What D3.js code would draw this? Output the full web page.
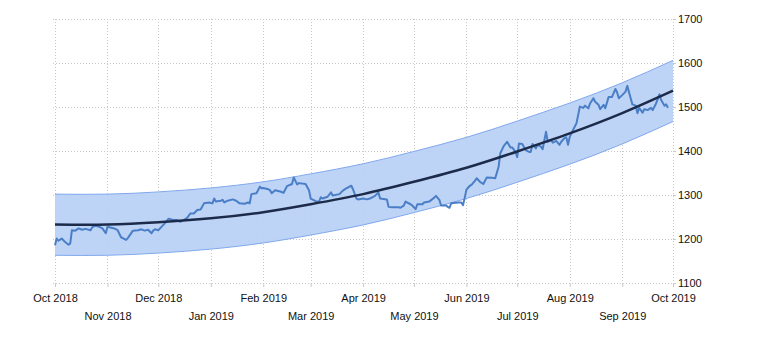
<!DOCTYPE html>
<html><head><meta charset="utf-8">
<script src="https://cdn.jsdelivr.net/npm/d3@7"></script>
<style>
html,body{margin:0;padding:0;background:#fff;}
svg{display:block;}
text{font-family:"Liberation Sans",Arial,sans-serif;}
</style></head>
<body><svg id="c" width="757" height="364"></svg>
<script>
// ---- data ----
const priceDates = [
"2018-10-01","2018-10-02","2018-10-03","2018-10-05","2018-10-07","2018-10-09","2018-10-10","2018-10-11","2018-10-13","2018-10-15","2018-10-17","2018-10-19","2018-10-22","2018-10-23","2018-10-25","2018-10-27","2018-10-29","2018-10-31",
"2018-11-01","2018-11-05","2018-11-07","2018-11-09","2018-11-12","2018-11-13","2018-11-16","2018-11-19","2018-11-21","2018-11-23","2018-11-25","2018-11-27","2018-11-28","2018-11-29",
"2018-12-01","2018-12-03","2018-12-05","2018-12-07","2018-12-10","2018-12-12","2018-12-14","2018-12-16","2018-12-18","2018-12-20","2018-12-22","2018-12-24","2018-12-26","2018-12-28","2018-12-31",
"2019-01-02","2019-01-03","2019-01-04","2019-01-07","2019-01-08","2019-01-09","2019-01-11","2019-01-14","2019-01-16","2019-01-18","2019-01-21","2019-01-23","2019-01-24","2019-01-25","2019-01-28","2019-01-30","2019-01-31",
"2019-02-01","2019-02-04","2019-02-05","2019-02-06","2019-02-08","2019-02-11","2019-02-13","2019-02-15","2019-02-18","2019-02-19","2019-02-21","2019-02-22","2019-02-26","2019-02-28",
"2019-03-01","2019-03-04","2019-03-06","2019-03-07","2019-03-08","2019-03-11","2019-03-13","2019-03-14","2019-03-18","2019-03-20","2019-03-22","2019-03-25","2019-03-26","2019-03-28","2019-03-29",
"2019-04-01","2019-04-03","2019-04-05","2019-04-08","2019-04-10","2019-04-11","2019-04-15","2019-04-16","2019-04-18","2019-04-22","2019-04-23","2019-04-25","2019-04-26","2019-04-29","2019-04-30",
"2019-05-02","2019-05-03","2019-05-06","2019-05-07","2019-05-10","2019-05-13","2019-05-14","2019-05-16","2019-05-17","2019-05-20","2019-05-21","2019-05-22","2019-05-23","2019-05-27","2019-05-29","2019-05-30","2019-05-31",
"2019-06-01","2019-06-03","2019-06-04","2019-06-06","2019-06-07","2019-06-09","2019-06-11","2019-06-13","2019-06-16","2019-06-18","2019-06-20","2019-06-21","2019-06-23","2019-06-25","2019-06-27","2019-06-28","2019-06-30",
"2019-07-01","2019-07-02","2019-07-04","2019-07-06","2019-07-08","2019-07-09","2019-07-10","2019-07-12","2019-07-13","2019-07-15","2019-07-16","2019-07-18","2019-07-19","2019-07-21","2019-07-22","2019-07-24","2019-07-26","2019-07-27","2019-07-29","2019-07-30","2019-07-31",
"2019-08-01","2019-08-03","2019-08-05","2019-08-06","2019-08-07","2019-08-09","2019-08-10","2019-08-12","2019-08-13","2019-08-15","2019-08-16","2019-08-18","2019-08-19","2019-08-21","2019-08-22","2019-08-24","2019-08-26","2019-08-28","2019-08-29","2019-08-30",
"2019-09-01","2019-09-03","2019-09-04","2019-09-06","2019-09-07","2019-09-09","2019-09-10","2019-09-11","2019-09-13","2019-09-14","2019-09-16","2019-09-18","2019-09-19","2019-09-21","2019-09-22","2019-09-23","2019-09-24","2019-09-26","2019-09-27","2019-09-28"
];
const priceValues = [
1186,1201,1196,1201,1193,1187,1190,1220,1219,1224,1221,1223,1220,1227,1230,1228,1224,1213,
1228,1224,1220,1204,1198,1202,1219,1220,1222,1219,1221,1213,1219,1222,
1220,1228,1236,1246,1243,1243,1239,1243,1248,1258,1258,1266,1267,1281,1283,
1281,1292,1285,1287,1289,1283,1287,1290,1287,1281,1280,1283,1281,1302,1304,1319,1315,
1316,1313,1311,1304,1311,1308,1305,1320,1325,1340,1324,1327,1325,1311,
1292,1286,1285,1295,1292,1296,1306,1299,1302,1310,1315,1321,1313,1292,1290,
1292,1290,1292,1298,1306,1292,1290,1273,1272,1272,1271,1276,1285,1279,1276,
1268,1279,1279,1283,1285,1294,1298,1289,1276,1276,1273,1271,1281,1283,1283,1277,1294,
1312,1321,1323,1332,1338,1330,1325,1340,1339,1338,1364,1395,1411,1421,1408,1408,1398,
1386,1417,1416,1402,1398,1398,1416,1406,1414,1410,1404,1444,1421,1425,1419,1423,1414,1421,1430,1431,1414,
1432,1448,1463,1482,1501,1498,1503,1497,1508,1520,1512,1505,1495,1505,1497,1523,1523,1541,1533,1520,
1527,1535,1548,1520,1506,1503,1486,1498,1487,1495,1493,1498,1493,1508,1518,1529,1516,1503,1506,1498
];
const trendDates = ["2018-10-01","2018-11-01","2018-12-01","2019-01-01","2019-02-01","2019-03-01","2019-04-01","2019-05-01","2019-06-01","2019-07-01","2019-08-01","2019-09-01","2019-10-01"];
const trendValues = [1233,1233,1238,1247,1261,1279,1302,1330,1362,1399,1440,1486,1537];
const bandUpper   = [1302,1302,1307,1316,1330,1348,1371,1399,1431,1468,1509,1555,1606];
const bandLower   = [1163,1163,1168,1177,1191,1209,1232,1260,1292,1329,1370,1416,1467];
const yTicks = [1100,1200,1300,1400,1500,1600,1700];
const xStart = "2018-10-01", xEnd = "2019-10-01";

// ---- drawing ----
const parse = d3.timeParse("%Y-%m-%d");
const price = priceDates.map((d,i)=>({date:parse(d), value:priceValues[i]}));
const trend = trendDates.map((d,i)=>({date:parse(d), value:trendValues[i], hi:bandUpper[i], lo:bandLower[i]}));

const L = 55, R = 673, T = 19, B = 283;
const svg = d3.select("#c");
const x = d3.scaleTime().domain([parse(xStart), parse(xEnd)]).range([L, R]);
const y = d3.scaleLinear().domain([1100, 1700]).range([B, T]);
const months = d3.timeMonth.range(parse(xStart), d3.timeDay.offset(parse(xEnd),1));

const grid = svg.append("g").attr("stroke","#c9c9c9").attr("stroke-width",1).attr("stroke-dasharray","1,2");
grid.selectAll("line.h").data(yTicks).join("line")
  .attr("x1",L-2).attr("x2",R).attr("y1",d=>Math.round(y(d))+0.5).attr("y2",d=>Math.round(y(d))+0.5);
grid.selectAll("line.v").data(months).join("line")
  .attr("x1",d=>Math.round(x(d))+0.5).attr("x2",d=>Math.round(x(d))+0.5).attr("y1",T).attr("y2",B);

// band
const curve = d3.curveNatural;
svg.append("path").datum(trend)
  .attr("d", d3.area().x(d=>x(d.date)).y0(d=>y(d.lo)).y1(d=>y(d.hi)).curve(curve))
  .attr("fill","#bbd2f6").attr("fill-opacity",0.95);
svg.append("path").datum(trend)
  .attr("d", d3.line().x(d=>x(d.date)).y(d=>y(d.hi)).curve(curve))
  .attr("fill","none").attr("stroke","#80a8ee").attr("stroke-width",1);
svg.append("path").datum(trend)
  .attr("d", d3.line().x(d=>x(d.date)).y(d=>y(d.lo)).curve(curve))
  .attr("fill","none").attr("stroke","#80a8ee").attr("stroke-width",1);

// price
svg.append("path").datum(price)
  .attr("d", d3.line().x(d=>x(d.date)).y(d=>y(d.value)))
  .attr("fill","none").attr("stroke","#4a7ec6").attr("stroke-width",2).attr("stroke-linejoin","round");

// trend
svg.append("path").datum(trend)
  .attr("d", d3.line().x(d=>x(d.date)).y(d=>y(d.value)).curve(curve))
  .attr("fill","none").attr("stroke","#1c2b4a").attr("stroke-width",2.5);

// x axis
const xAxis = d3.axisBottom(x).tickValues(months).tickSize(4).tickPadding(0)
  .tickFormat(d3.timeFormat("%b %Y"));
const gx = svg.append("g").attr("transform",`translate(0,${B})`).call(xAxis);
gx.select(".domain").remove();
gx.selectAll(".tick line").attr("stroke","#c9c9c9");
gx.selectAll(".tick text").attr("fill","#111").attr("font-size","11px")
  .attr("font-family","'Liberation Sans',Arial,sans-serif")
  .attr("dy",null).attr("y",(d,i)=> i%2===0 ? 19 : 37);

// y axis
const yAxis = d3.axisRight(y).tickValues(yTicks).tickSize(3).tickPadding(2).tickFormat(d3.format("d"));
const gy = svg.append("g").attr("transform",`translate(${R},0)`).call(yAxis);
gy.select(".domain").remove();
gy.selectAll(".tick line").attr("stroke","#c9c9c9");
gy.selectAll(".tick text").attr("fill","#111").attr("font-size","11px")
  .attr("font-family","'Liberation Sans',Arial,sans-serif");
</script>
</body></html>
